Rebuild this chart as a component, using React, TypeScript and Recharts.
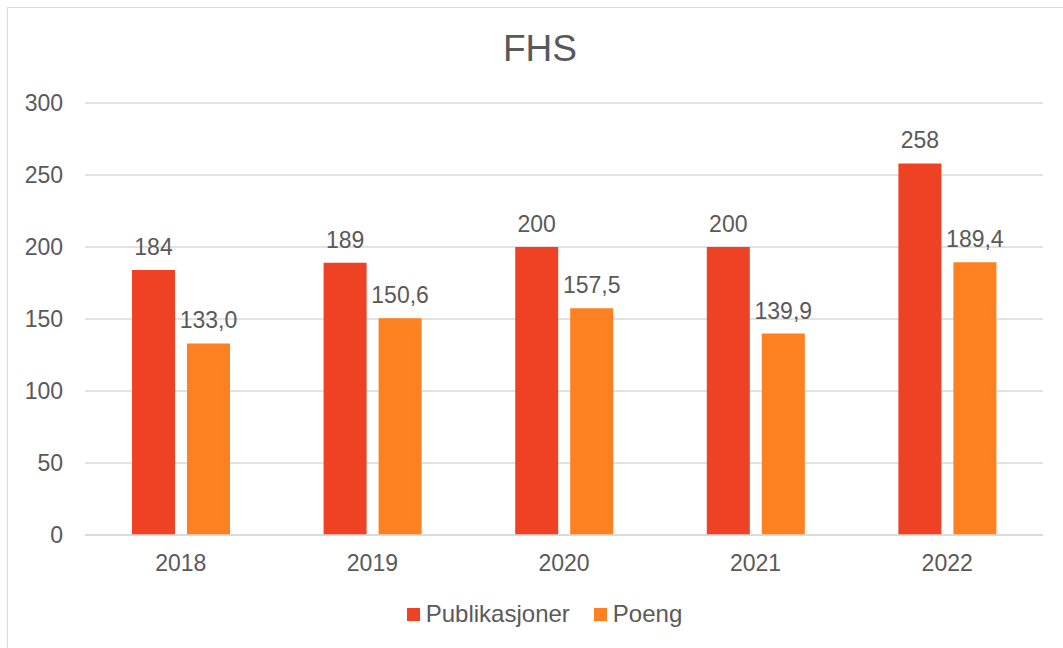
import { Bar, BarChart, CartesianGrid, LabelList, Legend, XAxis, YAxis } from "recharts";

const years = ["2018", "2019", "2020", "2021", "2022"];
const publikasjoner = [184, 189, 200, 200, 258];
const poeng = [133.0, 150.6, 157.5, 139.9, 189.4];
const yTicks = [0, 50, 100, 150, 200, 250, 300];

const data = years.map((year, i) => ({
  year,
  publikasjoner: publikasjoner[i],
  poeng: poeng[i],
}));

const RED = "#EF4123";
const ORANGE = "#FD8021";
const TEXT = "#595959";
const FONT = "'Liberation Sans', Arial, sans-serif";

const series = [
  { key: "publikasjoner", name: "Publikasjoner", color: RED },
  { key: "poeng", name: "Poeng", color: ORANGE },
];

const fmtComma = (v: any) => Number(v).toFixed(1).replace(".", ",");

function LegendContent() {
  return (
    <div
      style={{
        display: "flex",
        justifyContent: "center",
        gap: 24,
        paddingLeft: 46,
        fontFamily: FONT,
        fontSize: 24,
        color: TEXT,
      }}
    >
      {series.map((s) => (
        <div key={s.key} style={{ display: "flex", alignItems: "center", gap: 6 }}>
          <span style={{ width: 13, height: 13, background: s.color, display: "inline-block" }} />
          <span>{s.name}</span>
        </div>
      ))}
    </div>
  );
}

export default function App() {
  return (
    <div
      style={{
        position: "absolute",
        left: 0,
        top: 0,
        width: 1063,
        height: 648,
        overflow: "hidden",
        background: "#fff",
        fontFamily: FONT,
      }}
    >
      <div
        style={{
          position: "absolute",
          left: 7,
          top: 7,
          width: 1070,
          height: 660,
          border: "1px solid #d9d9d9",
        }}
      />
      <div
        style={{
          position: "absolute",
          left: 0,
          width: 1080,
          top: 28,
          textAlign: "center",
          fontSize: 37,
          color: TEXT,
          lineHeight: "42px",
        }}
      >
        FHS
      </div>
      <div style={{ position: "absolute", left: 0, top: 0 }}>
        <BarChart
          width={1063}
          height={648}
          data={data}
          margin={{ top: 103, right: 20, bottom: 20, left: 0 }}
          barSize={43}
          barGap={12}
        >
          <CartesianGrid vertical={false} stroke="#d9d9d9" strokeWidth={1.5} />
          <XAxis
            dataKey="year"
            height={65}
            tickLine={false}
            axisLine={{ stroke: "#d9d9d9", strokeWidth: 1.5 }}
            tick={{ fill: TEXT, fontSize: 23, fontFamily: FONT }}
            tickMargin={14}
          />
          <YAxis
            width={85}
            domain={[0, 300]}
            ticks={yTicks}
            interval={0}
            tickLine={false}
            axisLine={false}
            tick={{ fill: TEXT, fontSize: 23, fontFamily: FONT }}
            tickMargin={16}
          />
          <Legend verticalAlign="bottom" content={<LegendContent />} />
          {series.map((s) => (
            <Bar key={s.key} dataKey={s.key} name={s.name} fill={s.color} isAnimationActive={false}>
              <LabelList
                dataKey={s.key}
                position="top"
                offset={15}
                fill={TEXT}
                fontSize={23}
                fontFamily={FONT}
                formatter={s.key === "poeng" ? fmtComma : undefined}
              />
            </Bar>
          ))}
        </BarChart>
      </div>
    </div>
  );
}
